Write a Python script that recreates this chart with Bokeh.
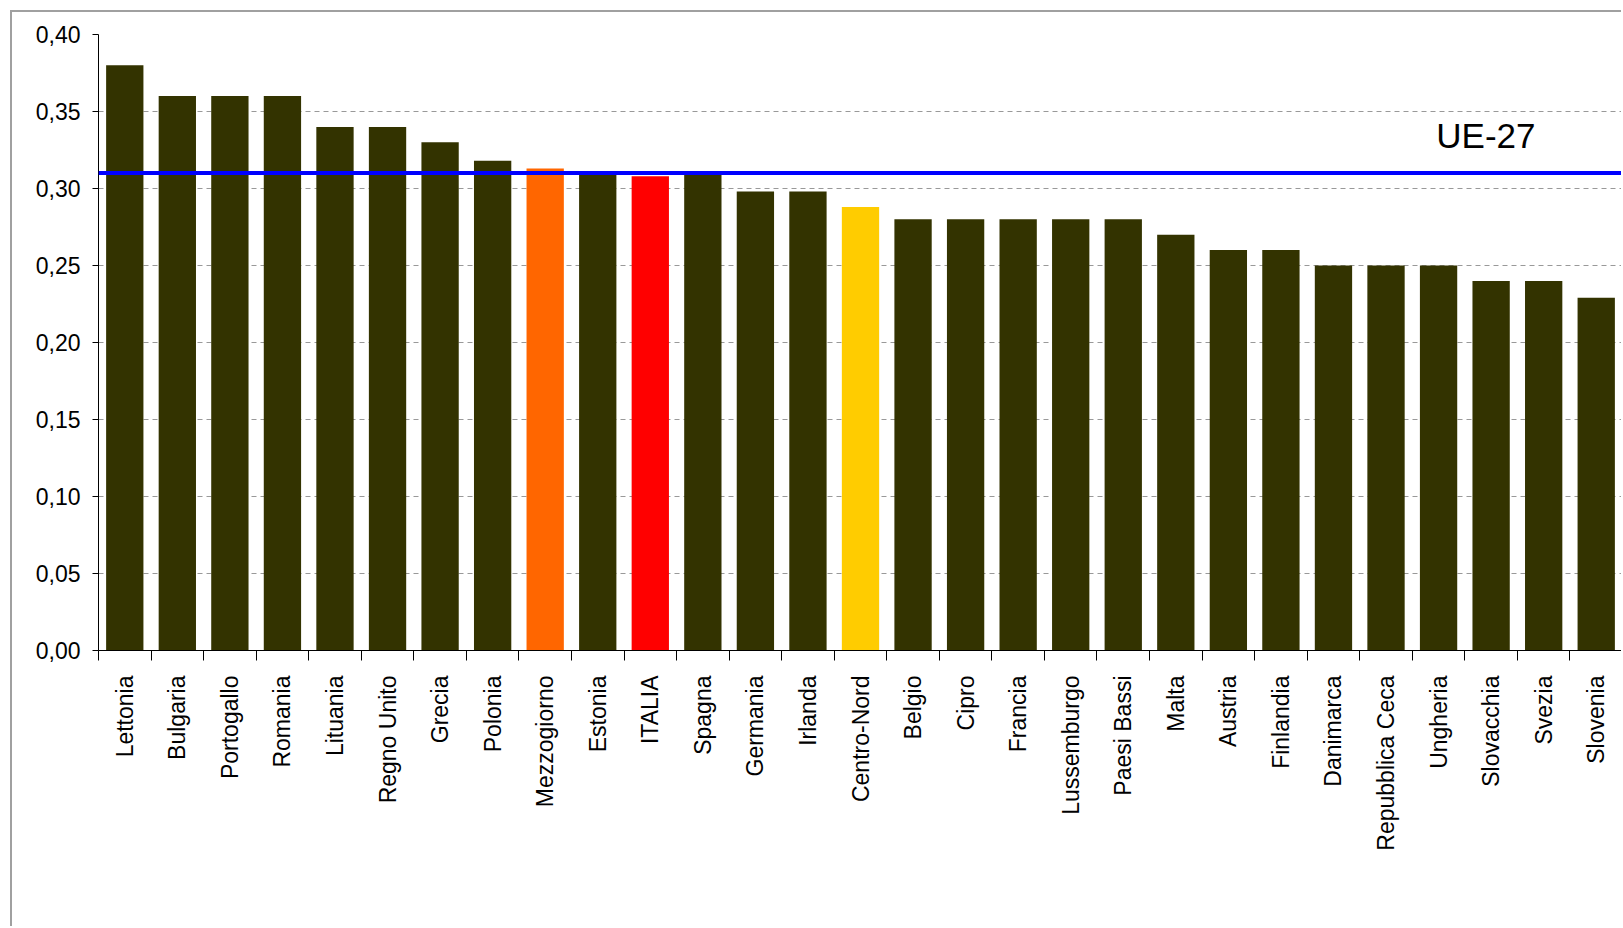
import math
from bokeh.plotting import figure
from bokeh.models import ColumnDataSource, FixedTicker, CustomJSTickFormatter, Span, Label, Range1d
from bokeh.embed import file_html
from bokeh.resources import INLINE

countries = ["Lettonia", "Bulgaria", "Portogallo", "Romania", "Lituania", "Regno Unito",
             "Grecia", "Polonia", "Mezzogiorno", "Estonia", "ITALIA", "Spagna", "Germania",
             "Irlanda", "Centro-Nord", "Belgio", "Cipro", "Francia", "Lussemburgo",
             "Paesi Bassi", "Malta", "Austria", "Finlandia", "Danimarca", "Repubblica Ceca",
             "Ungheria", "Slovacchia", "Svezia", "Slovenia"]
gini = [0.38, 0.36, 0.36, 0.36, 0.34, 0.34, 0.33, 0.318, 0.313, 0.31, 0.308, 0.31, 0.298,
        0.298, 0.288, 0.28, 0.28, 0.28, 0.28, 0.28, 0.27, 0.26, 0.26, 0.25, 0.25, 0.25,
        0.24, 0.24, 0.229]
highlight = {"Mezzogiorno": "#FF6600", "ITALIA": "#FF0000", "Centro-Nord": "#FFCC00"}
base_color = "#333300"
ue27 = 0.31
y_ticks = [0.0, 0.05, 0.10, 0.15, 0.20, 0.25, 0.30, 0.35, 0.40]

n = len(countries)
centers = [i + 0.5 for i in range(n)]
bounds = list(range(n + 1))
colors = [highlight.get(c, base_color) for c in countries]

src = ColumnDataSource(dict(x=centers, top=gini, color=colors, name=countries))

p = figure(width=1611, height=916, x_range=Range1d(0, n), y_range=Range1d(0, 0.40),
           output_backend="svg", toolbar_location=None,
           min_border_left=86, min_border_top=22, min_border_right=1, min_border_bottom=278)
p.styles = {"margin-left": "10px", "margin-top": "10px",
            "border-left": "2px solid #a0a0a0", "border-top": "2px solid #a0a0a0"}
p.outline_line_color = None
p.background_fill_color = "white"
p.border_fill_color = "white"

p.xgrid.visible = False
p.ygrid.grid_line_color = "#999999"
p.ygrid.grid_line_dash = "5 4"
p.ygrid.grid_line_width = 1

p.vbar(x="x", top="top", bottom=0, width=0.71, fill_color="color", line_color=None, source=src)

p.add_layout(Span(location=ue27, dimension="width", line_color="#0000FF", line_width=4))
p.add_layout(Label(x=26.4, y=0.3215, text="UE-27", text_align="center",
                   text_font="Liberation Sans", text_font_size="35px", text_color="black"))

ya = p.yaxis[0]
ya.ticker = FixedTicker(ticks=y_ticks)
ya.formatter = CustomJSTickFormatter(code="return tick.toFixed(2).replace('.', ',');")
ya.major_tick_in = 0
ya.major_tick_out = 6
ya.minor_tick_line_color = None
ya.axis_line_color = "black"
ya.major_tick_line_color = "black"
ya.major_label_standoff = 12
ya.major_label_text_font = "Liberation Sans"
ya.major_label_text_font_size = "23px"
ya.major_label_text_color = "black"

xa = p.xaxis[0]
xa.ticker = FixedTicker(ticks=centers, minor_ticks=bounds)
xa.formatter = CustomJSTickFormatter(args=dict(names=countries),
                                     code="return names[Math.floor(tick)];")
xa.major_tick_in = 0
xa.major_tick_out = 0
xa.major_tick_line_color = None
xa.minor_tick_in = 0
xa.minor_tick_out = 10
xa.minor_tick_line_color = "black"
xa.axis_line_color = "black"
xa.major_label_orientation = math.pi / 2
xa.major_label_standoff = 15
xa.major_label_text_font = "Liberation Sans"
xa.major_label_text_font_size = "23px"
xa.major_label_text_color = "black"

open("out.html", "w").write(file_html(p, INLINE))
